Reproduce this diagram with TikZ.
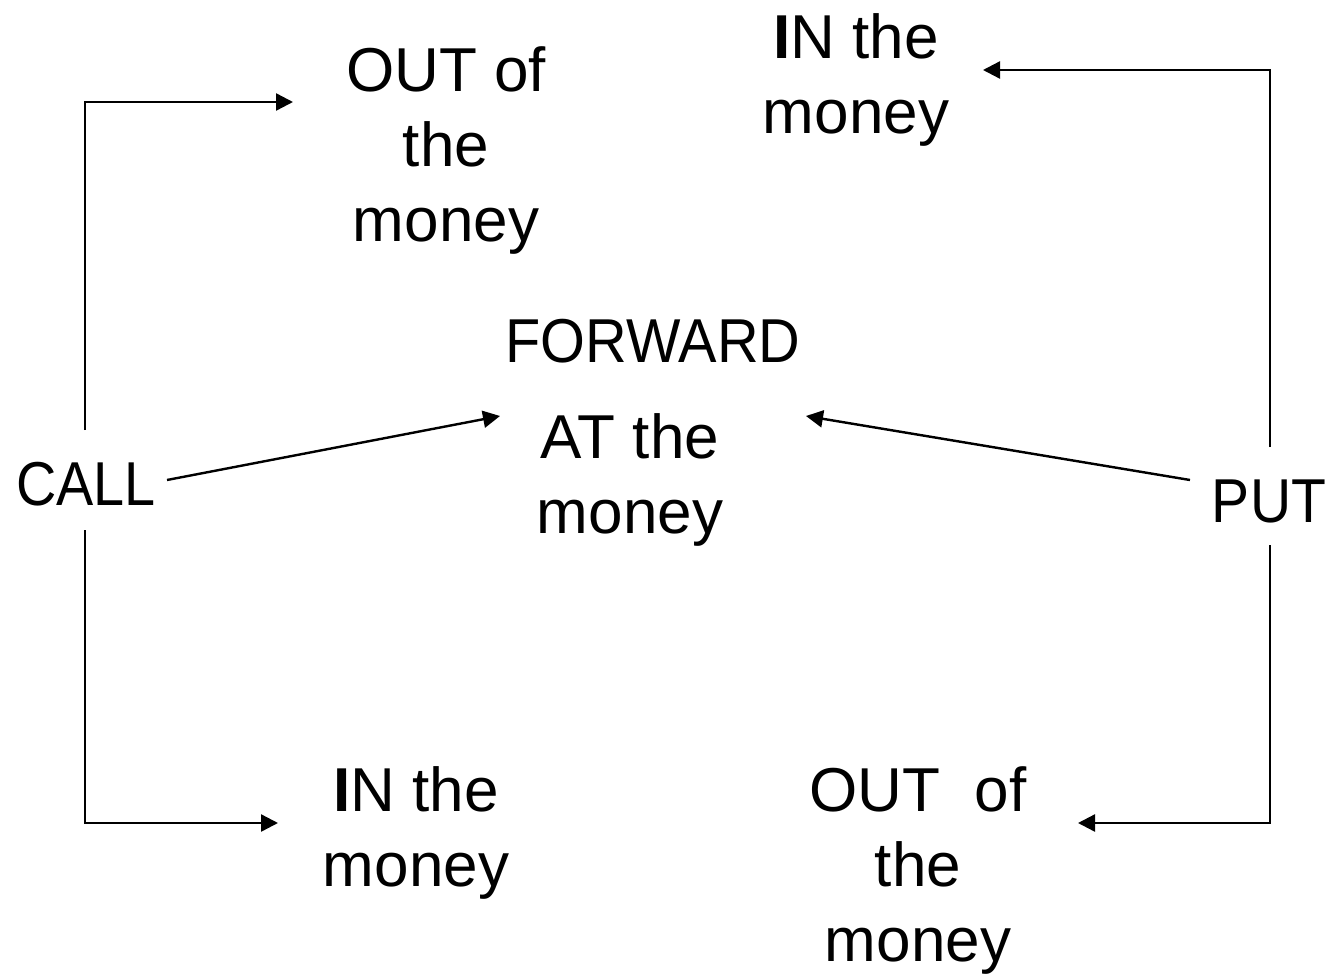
\documentclass[tikz,border=0pt]{standalone}
\usepackage{fontspec}
\setmainfont{Liberation Sans}
\usetikzlibrary{arrows.meta}
\begin{document}
\begin{tikzpicture}[x=1pt,y=-1pt,
  lbl/.style={inner sep=0pt, align=center, anchor=base, font=\fontsize{62}{75}\selectfont},
  arr/.style={line width=2.4pt, -{Triangle[length=17pt,width=17pt]}}]
\useasboundingbox (0,0) rectangle (1331,977);
\fill[white] (0,0) rectangle (1331,977);
% nodes (base anchor = baseline of the last line)
\node[lbl] (outtop) at (446,241) {OUT of\\the\\money};
\node[lbl] (intop) at (856,133) {{\bfseries I}N the\\money};
\node[lbl] (fwd) at (653,362) {\scalebox{0.93}[1]{FORWARD}};
\node[lbl] (atm) at (630,533) {AT the\\money};
\node[lbl] (call) at (86,505) {\scalebox{0.9}[1]{CALL}};
\node[lbl] (put) at (1269,522) {\scalebox{0.92}[1]{PUT}};
\node[lbl] (inbot) at (416,886) {{\bfseries I}N the\\money};
\node[lbl] (outbot) at (918,961) {OUT\ \ of\\the\\money};
% coordinates of connector ends
\coordinate (c1) at (85,430);
\coordinate (t1) at (293,102);
\coordinate (c2) at (85,530);
\coordinate (t2) at (278,823);
\coordinate (c3) at (167,480);
\coordinate (t3) at (500,416);
\coordinate (p1) at (1270,447);
\coordinate (t4) at (983,70);
\coordinate (p2) at (1270,545);
\coordinate (t5) at (1078,823);
\coordinate (p3) at (1190,480);
\coordinate (t6) at (806,416);
% connectors
\draw[arr] (c1) |- (t1);
\draw[arr] (c2) |- (t2);
\draw[arr] (c3) -- (t3);
\draw[arr] (p1) |- (t4);
\draw[arr] (p2) |- (t5);
\draw[arr] (p3) -- (t6);
\end{tikzpicture}
\end{document}
